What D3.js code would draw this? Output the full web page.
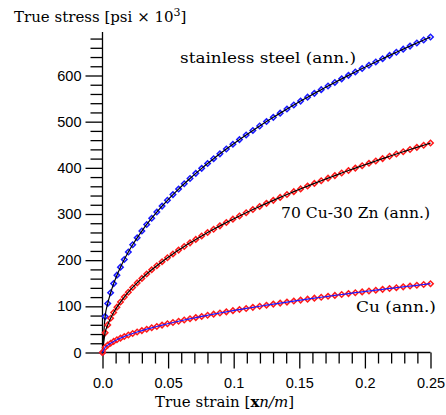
<!DOCTYPE html>
<html>
<head>
<meta charset="utf-8">
<script src="https://cdn.jsdelivr.net/npm/d3@7"></script>
<style>
  body { margin: 0; background: #fff; }
  svg { display: block; }
  .tick text { font-family: "Liberation Sans", Arial, sans-serif; font-size: 14.5px; fill: #000; }
  .lbl { font-family: "DejaVu Serif", serif; font-size: 15px; fill: #000; }
</style>
</head>
<body>
<script>
'use strict';

// true strain samples shared by the three curves
const strain = [0, 0.002, 0.004, 0.0062, 0.0085, 0.011, 0.0137, 0.0166, 0.0197, 0.023,
  0.0264, 0.03, 0.0337, 0.0375, 0.0414, 0.0454, 0.0495, 0.0537, 0.058, 0.0623,
  0.0667, 0.0711, 0.0756, 0.0801, 0.0847, 0.0895, 0.0944, 0.0994, 0.1044, 0.1095,
  0.1146, 0.1198, 0.125, 0.1302, 0.1354, 0.1406, 0.1458, 0.151, 0.1563, 0.1615,
  0.1667, 0.1719, 0.1771, 0.1823, 0.1875, 0.1927, 0.1979, 0.2031, 0.2083, 0.2135,
  0.2188, 0.224, 0.2292, 0.2344, 0.2396, 0.2448, 0.25];

const stainless = [0, 77.8, 106.3, 129.4, 149.2, 167.5, 184.9, 201.6, 217.8, 233.5,
  248.4, 263.1, 277.3, 290.9, 304.2, 317.1, 329.7, 342.0, 354.0, 365.6,
  377.0, 388.0, 398.9, 409.4, 419.8, 430.3, 440.8, 451.2, 461.2, 471.2,
  481.0, 490.7, 500.2, 509.4, 518.5, 527.3, 536.0, 544.6, 553.1, 561.3,
  569.3, 577.3, 585.0, 592.7, 600.3, 607.7, 615.0, 622.3, 629.4, 636.4,
  643.5, 650.3, 657.1, 663.7, 670.3, 676.8, 683.3];

const brass = [0, 42.6, 59.8, 74.1, 86.5, 98.2, 109.3, 120.1, 130.6, 140.9,
  150.8, 160.5, 170.0, 179.1, 188.0, 196.7, 205.2, 213.5, 221.8, 229.7,
  237.5, 245.0, 252.5, 259.8, 267.0, 274.3, 281.5, 288.8, 295.8, 302.8,
  309.6, 316.4, 323.1, 329.6, 336.0, 342.2, 348.4, 354.4, 360.5, 366.3,
  372.0, 377.7, 383.2, 388.7, 394.1, 399.4, 404.6, 409.8, 414.9, 420.0,
  425.0, 430.0, 434.8, 439.7, 444.4, 449.0, 453.7];

const copper = [0, 11.0, 16.0, 20.2, 24.0, 27.6, 31.1, 34.5, 37.8, 41.1,
  44.3, 47.4, 50.5, 53.5, 56.4, 59.3, 62.2, 64.9, 67.7, 70.4,
  73.0, 75.6, 78.1, 80.6, 83.1, 85.6, 88.1, 90.6, 93.0, 95.4,
  97.8, 100.2, 102.5, 104.8, 107.0, 109.2, 111.4, 113.5, 115.6, 117.7,
  119.7, 121.7, 123.7, 125.6, 127.6, 129.5, 131.3, 133.2, 135.0, 136.8,
  138.7, 140.4, 142.2, 143.9, 145.6, 147.3, 149.0];

const xTicks = [0, 0.05, 0.1, 0.15, 0.2, 0.25];
const xTickLabels = ["0.0", "0.05", "0.1", "0.15", "0.2", "0.25"];
const yTicks = [0, 100, 200, 300, 400, 500, 600];
const yMax = 694;

const series = [
  {name: "stainless steel (ann.)", values: stainless, line: "#000", marker: "#1a1aff"},
  {name: "70 Cu-30 Zn (ann.)", values: brass, line: "#000", marker: "#ff1a1a"},
  {name: "Cu (ann.)", values: copper, line: "#1a1aff", marker: "#ff1a1a"}
];

const width = 446, height = 415;

const x = d3.scaleLinear().domain([0, 0.25]).range([102.5, 430.5]);
const y = d3.scaleLinear().domain([0, 600]).range([352.5, 75.5]);

const svg = d3.select("body").append("svg")
    .attr("width", width)
    .attr("height", height);

// axes: majors + minors, domain lines drawn by hand
const xMinor = d3.range(0, 0.2501, 0.01).filter((v) => Math.round(v * 100) % 5 !== 0);
const yMinor = d3.range(0, 681, 20).filter((v) => v % 100 !== 0);

const gx = svg.append("g").attr("transform", `translate(0,${y(0)})`);
gx.append("g")
    .call(d3.axisBottom(x).tickValues(xMinor).tickSize(11).tickFormat(""));
gx.append("g")
    .call(d3.axisBottom(x).tickValues(xTicks).tickSize(16).tickPadding(9)
      .tickFormat((d, i) => xTickLabels[i]));

const gy = svg.append("g").attr("transform", `translate(${x(0)},0)`);
gy.append("g")
    .call(d3.axisLeft(y).tickValues(yMinor).tickSize(12).tickFormat(""));
gy.append("g")
    .call(d3.axisLeft(y).tickValues(yTicks).tickSize(17).tickPadding(4));

svg.selectAll(".domain").remove();
svg.selectAll(".tick line").attr("stroke", "#000").attr("stroke-width", 1.3);

svg.append("line")
    .attr("x1", x(0)).attr("x2", x(0.25))
    .attr("y1", y(0)).attr("y2", y(0))
    .attr("stroke", "#000").attr("stroke-width", 1.3);
svg.append("line")
    .attr("x1", x(0)).attr("x2", x(0))
    .attr("y1", y(0)).attr("y2", y(yMax))
    .attr("stroke", "#000").attr("stroke-width", 1.3);

// curves
const line = d3.line()
    .x((d) => x(d[0]))
    .y((d) => y(d[1]))
    .curve(d3.curveMonotoneX);

const diamond = d3.symbol(d3.symbolSquare, 15);

series.forEach((s) => {
  const pts = d3.zip(strain, s.values);
  svg.append("g").selectAll("path")
      .data(pts)
    .enter().append("path")
      .attr("d", diamond)
      .attr("transform", (d) => `translate(${x(d[0])},${y(d[1])}) rotate(45)`)
      .attr("fill", "none")
      .attr("stroke", s.marker)
      .attr("stroke-width", 1.5);
  svg.append("path")
      .datum(pts)
      .attr("d", line)
      .attr("fill", "none")
      .attr("stroke", s.line)
      .attr("stroke-width", 1.2);
});

// labels
const labels = [
  {text: series[0].name, x: 180, y: 63, len: 176},
  {text: series[1].name, x: 281, y: 218, len: 149},
  {text: series[2].name, x: 356, y: 312, len: 80}
];
svg.selectAll(".curve-label")
    .data(labels)
  .enter().append("text")
    .attr("class", "lbl")
    .attr("x", (d) => d.x)
    .attr("y", (d) => d.y)
    .attr("textLength", (d) => d.len)
    .attr("lengthAdjust", "spacingAndGlyphs")
    .text((d) => d.text);

const yTitle = svg.append("text")
    .attr("class", "lbl")
    .attr("x", 14)
    .attr("y", 22);
yTitle.append("tspan").text("True stress [psi \u00d7 10");
yTitle.append("tspan").attr("dy", -6).style("font-size", "11px").text("3");
yTitle.append("tspan").attr("dy", 6).text("]");

const xTitle = svg.append("text")
    .attr("class", "lbl")
    .attr("x", 155)
    .attr("y", 407);
xTitle.append("tspan").text("True strain [");
xTitle.append("tspan").style("font-weight", "bold").text("x");
xTitle.append("tspan").style("font-style", "italic").text("n/m");
xTitle.append("tspan").text("]");
</script>
</body>
</html>
